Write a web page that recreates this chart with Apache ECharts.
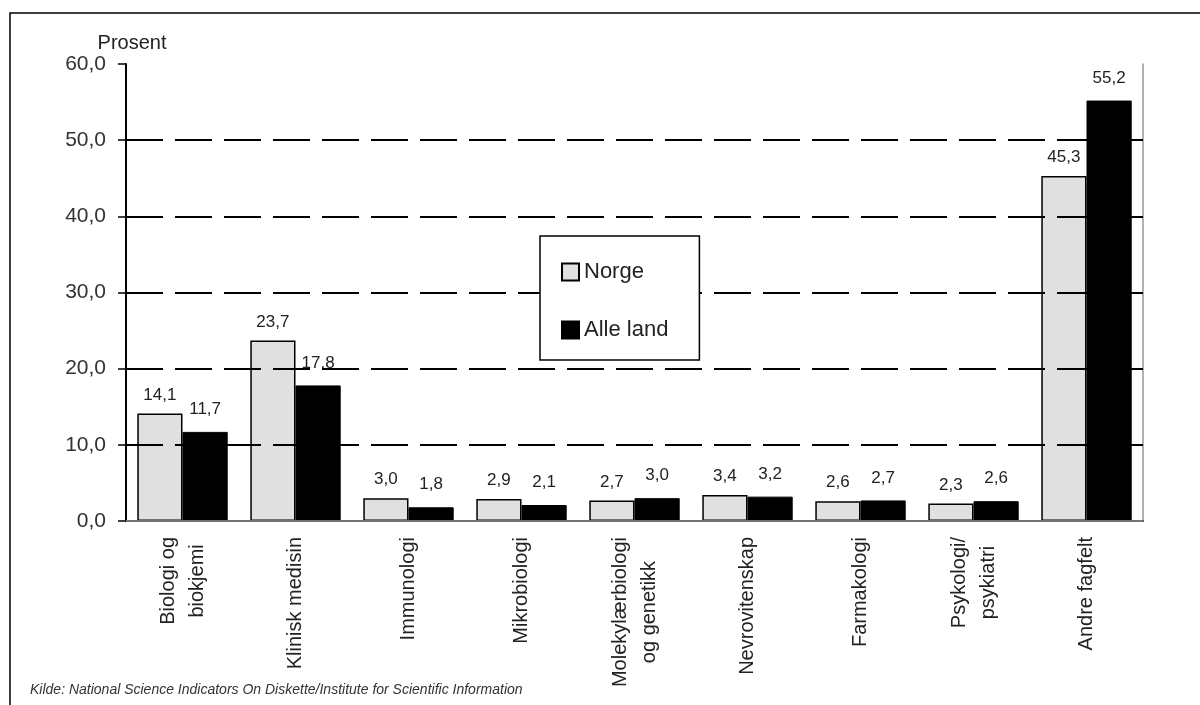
<!DOCTYPE html>
<html>
<head>
<meta charset="utf-8">
<script src="https://cdn.jsdelivr.net/npm/echarts@6/dist/echarts.min.js"></script>
<style>html,body{margin:0;padding:0;background:#fff}#c{width:1200px;height:705px}</style>
</head>
<body>
<div id="c"></div>
<script>
const categories = ['Biologi og\nbiokjemi', 'Klinisk medisin', 'Immunologi', 'Mikrobiologi', 'Molekylærbiologi\nog genetikk', 'Nevrovitenskap', 'Farmakologi', 'Psykologi/\npsykiatri', 'Andre fagfelt'];
const norge = [14.1, 23.7, 3.0, 2.9, 2.7, 3.4, 2.6, 2.3, 45.3];
const alleLand = [11.7, 17.8, 1.8, 2.1, 3.0, 3.2, 2.7, 2.6, 55.2];
const seriesNames = ['Norge', 'Alle land'];
const yTicks = { min: 0, max: 60, interval: 10 };
const sourceText = 'Kilde: National Science Indicators On Diskette/Institute for Scientific Information';

const fmt = v => v.toFixed(1).replace('.', ',');
const FONT = 'Arial, "Liberation Sans", sans-serif';

const chart = echarts.init(document.getElementById('c'), null, { renderer: 'canvas' });
chart.setOption({
  animation: false,
  backgroundColor: '#fff',
  textStyle: { fontFamily: FONT },
  grid: { left: 126, right: 57, top: 64, bottom: 184, containLabel: false },
  legend: {
    orient: 'vertical',
    left: 540, top: 236,
    padding: [25, 31, 19, 21],
    itemGap: 36,
    itemWidth: 17, itemHeight: 17,
    icon: 'rect',
    backgroundColor: '#fff',
    borderColor: '#000', borderWidth: 1.5,
    textStyle: { fontSize: 22, color: '#222', fontFamily: FONT },
    data: seriesNames,
    z: 10
  },
  xAxis: [{
    type: 'category',
    data: categories,
    axisLine: { lineStyle: { color: '#000', width: 2 } },
    axisTick: { length: 8, lineStyle: { color: '#000', width: 1.5 } },
    axisLabel: {
      rotate: 90, margin: 16, interval: 0,
      formatter: v => v.split('\n').map(s => '{c|' + s + '}').join('\n'),
      rich: { c: { align: 'center', fontSize: 20, lineHeight: 29, color: '#222', fontFamily: FONT } }
    },
    z: 3
  }, {
    type: 'category',
    position: 'top',
    data: categories,
    axisLine: { lineStyle: { color: '#999', width: 1.5 } },
    axisTick: { show: false },
    axisLabel: { show: false },
    z: 3
  }],
  yAxis: [{
    type: 'value',
    min: yTicks.min, max: yTicks.max, interval: yTicks.interval,
    name: 'Prosent',
    nameLocation: 'end',
    nameGap: -3,
    nameTextStyle: { fontSize: 20, color: '#222', padding: [0, 0, 0, 12], fontFamily: FONT },
    axisLine: { show: true, lineStyle: { color: '#000', width: 2 } },
    axisTick: { show: true, length: 8, lineStyle: { color: '#000', width: 1.5 } },
    axisLabel: { formatter: fmt, fontSize: 21, color: '#333', margin: 20, fontFamily: FONT },
    splitLine: { show: true, showMinLine: false, showMaxLine: false, lineStyle: { color: '#000', width: 2, type: [37, 12] } },
    z: 3
  }, {
    type: 'value',
    position: 'right',
    min: yTicks.min, max: yTicks.max, interval: yTicks.interval,
    axisLine: { show: true, lineStyle: { color: '#999', width: 1.5 } },
    axisTick: { show: false },
    axisLabel: { show: false },
    splitLine: { show: false }
  }],
  series: [{
    name: seriesNames[0],
    type: 'bar',
    data: norge,
    barGap: '0%',
    barCategoryGap: '20%',
    itemStyle: { color: '#e0e0e0', borderColor: '#000', borderWidth: 1.5 },
    label: { show: true, position: 'top', distance: 10, formatter: p => fmt(p.value), fontSize: 17, color: '#222', fontFamily: FONT },
    z: 2
  }, {
    name: seriesNames[1],
    type: 'bar',
    data: alleLand,
    barGap: '0%',
    barCategoryGap: '20%',
    itemStyle: { color: '#000', borderColor: '#000', borderWidth: 1 },
    label: { show: true, position: 'top', distance: 14, formatter: p => fmt(p.value), fontSize: 17, color: '#222', fontFamily: FONT },
    z: 2
  }],
  graphic: [{
    type: 'rect',
    shape: { x: 10, y: 13, width: 1200, height: 700 },
    style: { fill: 'none', stroke: '#000', lineWidth: 1.5 },
    silent: true
  }, {
    type: 'text',
    left: 30, top: 683,
    style: { text: sourceText, fontSize: 14, fontStyle: 'italic', fill: '#333', fontFamily: FONT }
  }]
});
</script>
</body>
</html>
